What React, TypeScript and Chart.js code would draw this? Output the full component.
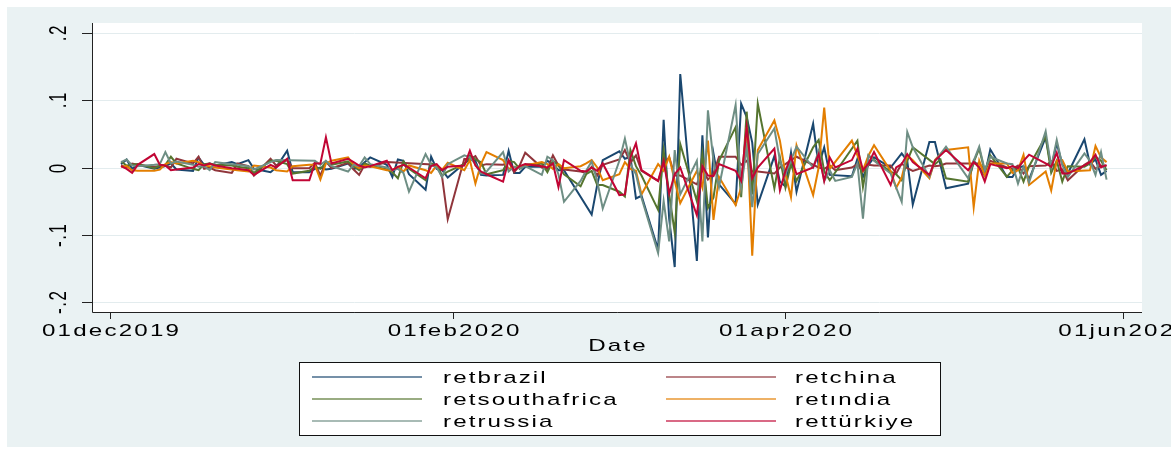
import { useEffect, useRef } from "react";
import { Chart, registerables } from "chart.js";

Chart.register(...registerables);

// ---------- data ----------
const dates = [
  "2019-12-03","2019-12-04","2019-12-05","2019-12-06","2019-12-09","2019-12-10","2019-12-11","2019-12-12","2019-12-13","2019-12-16",
  "2019-12-17","2019-12-18","2019-12-19","2019-12-20","2019-12-23","2019-12-24","2019-12-26","2019-12-27","2019-12-30","2019-12-31",
  "2020-01-02","2020-01-03","2020-01-06","2020-01-07","2020-01-08","2020-01-09","2020-01-10","2020-01-13","2020-01-14","2020-01-15",
  "2020-01-16","2020-01-17","2020-01-20","2020-01-21","2020-01-22","2020-01-23","2020-01-24","2020-01-27","2020-01-28","2020-01-29",
  "2020-01-30","2020-01-31",
  "2020-02-03","2020-02-04","2020-02-05","2020-02-06","2020-02-07","2020-02-10","2020-02-11","2020-02-12","2020-02-13","2020-02-14",
  "2020-02-17","2020-02-18","2020-02-19","2020-02-20","2020-02-21","2020-02-24","2020-02-25","2020-02-26","2020-02-27","2020-02-28",
  "2020-03-02","2020-03-03","2020-03-04","2020-03-05","2020-03-06","2020-03-09","2020-03-10","2020-03-11","2020-03-12","2020-03-13",
  "2020-03-16","2020-03-17","2020-03-18","2020-03-19","2020-03-20","2020-03-23","2020-03-24","2020-03-25","2020-03-26","2020-03-27",
  "2020-03-30","2020-03-31",
  "2020-04-01","2020-04-02","2020-04-03","2020-04-06","2020-04-07","2020-04-08","2020-04-09","2020-04-10","2020-04-13","2020-04-14",
  "2020-04-15","2020-04-16","2020-04-17","2020-04-20","2020-04-21","2020-04-22","2020-04-23","2020-04-24","2020-04-27","2020-04-28",
  "2020-04-29","2020-04-30",
  "2020-05-01","2020-05-04","2020-05-05","2020-05-06","2020-05-07","2020-05-08","2020-05-11","2020-05-12","2020-05-13","2020-05-14",
  "2020-05-15","2020-05-18","2020-05-19","2020-05-20","2020-05-21","2020-05-22","2020-05-25","2020-05-26","2020-05-27","2020-05-28",
  "2020-05-29",
];

const retbrazil = [
  0.005, 0.012, -0.002, 0.004, -0.002, 0.0, 0.002, 0.006, -0.003, -0.005, 0.015, 0.004, 0.006, 0.003, 0.008, 0.005, 0.011, -0.002, -0.007, 0.0,
  0.025, -0.007, -0.007, -0.002, 0.0, -0.003, -0.002, 0.006, -0.002, 0.0, 0.008, 0.015, 0.004, -0.014, 0.012, 0.01, -0.01, -0.033, 0.016, -0.002, -0.004, -0.015,
  0.006, 0.012, 0.01, -0.011, -0.012, -0.011, 0.025, -0.008, -0.008, 0.001, 0.001, 0.01, 0.005, -0.004, -0.004, null, null, -0.07, -0.026, 0.011,
  0.024, 0.013, 0.016, -0.046, -0.042, -0.122, 0.071, -0.076, -0.148, 0.139, -0.139, 0.048, -0.104, 0.021, -0.025, -0.054, 0.095, 0.075, 0.037, -0.055, 0.017, -0.021,
  -0.028, 0.022, -0.036, 0.065, 0.002, 0.03, -0.011, null, -0.013, 0.013, -0.014, 0.004, 0.015, 0.0, null, 0.021, 0.01, -0.055, 0.038, 0.038, 0.004, -0.031,
  null, -0.024, 0.01, 0.0, -0.012, 0.027, -0.014, -0.014, 0.0, 0.002, -0.018, 0.045, 0.0, 0.036, 0.005, -0.009, 0.042, 0.005, 0.012, -0.011, -0.005,
];

const retchina = [
  0.003, 0.0, 0.006, 0.004, 0.001, 0.002, 0.003, 0.0, 0.013, 0.006, 0.016, -0.002, 0.0, -0.004, -0.008, 0.006, 0.002, -0.012, 0.013, 0.003,
  0.011, -0.001, -0.001, 0.007, -0.012, 0.009, -0.001, 0.007, -0.003, -0.011, 0.004, 0.001, 0.008, null, null, null, null, null, null, 0.004, -0.015, -0.077,
  0.013, 0.012, 0.017, 0.003, 0.005, 0.004, 0.009, -0.007, 0.003, 0.022, 0.0, -0.002, 0.018, 0.003, -0.003, -0.006, -0.008, 0.001, -0.012, 0.004,
  0.012, 0.026, 0.007, 0.018, -0.005, -0.02, 0.005, 0.015, -0.012, -0.012, -0.025, -0.003, -0.018, -0.009, 0.016, 0.016, 0.004, 0.01, -0.006, -0.006, -0.009, 0.0,
  0.005, 0.011, 0.016, null, 0.0, -0.002, 0.003, -0.004, 0.0, 0.005, -0.006, 0.004, 0.003, 0.003, -0.009, 0.006, -0.001, -0.005, 0.003, 0.002, 0.003, 0.006,
  null, null, null, 0.006, -0.004, 0.01, 0.0, -0.002, 0.003, -0.009, 0.002, 0.003, 0.009, -0.005, -0.003, -0.019, 0.004, 0.009, -0.002, 0.003, 0.002,
];

const retsouthafrica = [
  0.009, 0.003, 0.004, 0.005, -0.001, 0.003, 0.004, 0.016, 0.006, -0.002, -0.004, 0.005, 0.006, 0.004, 0.003, 0.001, -0.001, -0.008, 0.01, 0.01,
  0.005, -0.009, -0.005, 0.001, -0.002, 0.007, 0.004, 0.009, 0.002, -0.004, 0.006, 0.003, -0.003, -0.007, -0.016, 0.009, -0.002, -0.019, 0.006, 0.003, -0.012, -0.006,
  0.005, 0.018, 0.012, 0.008, -0.01, -0.004, 0.01, 0.008, -0.002, 0.004, 0.006, -0.007, 0.01, 0.003, -0.01, -0.028, -0.01, -0.005, -0.026, -0.026,
  -0.036, -0.043, 0.026, 0.002, -0.012, -0.063, 0.025, -0.04, -0.097, 0.035, -0.05, 0.02, -0.06, -0.045, 0.01, 0.06, -0.044, 0.083, -0.04, 0.095, -0.031, 0.015,
  -0.03, 0.005, -0.02, 0.03, 0.041, -0.006, -0.019, null, null, 0.04, -0.029, 0.018, 0.011, -0.006, -0.01, -0.019, 0.01, 0.03, null, 0.005, 0.012, -0.016,
  null, -0.021, 0.008, 0.028, -0.006, 0.018, -0.014, -0.004, 0.0, -0.021, 0.002, 0.046, -0.008, 0.01, -0.021, 0.002, 0.001, 0.006, 0.016, 0.01, -0.004,
];

const retindia = [
  0.001, 0.002, -0.004, -0.005, -0.005, -0.003, 0.005, 0.008, 0.006, 0.01, 0.008, 0.003, 0.002, 0.0, -0.003, -0.004, -0.006, 0.003, 0.0, -0.004,
  -0.006, 0.002, 0.004, 0.004, -0.018, 0.006, 0.01, 0.015, 0.004, -0.001, 0.003, 0.002, -0.004, -0.004, 0.001, -0.006, 0.003, -0.004, -0.008, 0.003, -0.003, 0.007,
  -0.004, 0.011, -0.024, 0.005, 0.023, 0.011, -0.002, 0.001, 0.0, 0.003, 0.008, 0.005, -0.002, 0.005, -0.001, 0.002, 0.006, 0.011, 0.0, -0.019,
  -0.01, 0.008, -0.002, -0.005, -0.04, 0.005, -0.005, 0.016, -0.02, -0.053, -0.005, -0.03, 0.04, -0.078, -0.014, -0.056, -0.03, 0.06, -0.131, 0.026, 0.07, 0.04,
  -0.01, -0.044, 0.033, -0.041, 0.0, 0.089, -0.002, null, 0.04, null, -0.004, 0.018, 0.033, -0.005, -0.03, -0.015, 0.018, 0.011, -0.016, 0.011, 0.02, 0.026,
  null, 0.03, -0.059, 0.01, -0.012, 0.006, 0.006, -0.008, -0.004, 0.019, -0.026, -0.006, -0.034, 0.01, 0.011, -0.006, null, -0.004, 0.032, 0.015, 0.008,
];

const retrussia = [
  0.008, 0.012, 0.003, 0.002, 0.004, 0.005, 0.023, 0.006, 0.009, 0.004, 0.001, 0.002, -0.004, 0.008, 0.005, 0.004, 0.002, -0.003, 0.008, 0.011,
  null, null, null, 0.01, 0.004, 0.01, 0.002, -0.006, 0.004, 0.002, 0.015, 0.005, 0.0, -0.004, -0.002, -0.008, -0.036, 0.02, 0.004, 0.0, -0.014, 0.005,
  0.018, 0.015, 0.005, -0.009, -0.006, 0.023, -0.006, 0.001, -0.001, 0.002, -0.011, 0.016, 0.011, -0.01, -0.051, -0.02, -0.005, 0.009, -0.02, -0.061,
  0.01, 0.043, 0.005, -0.01, -0.045, -0.127, -0.05, -0.11, 0.026, -0.04, 0.01, -0.11, 0.085, 0.01, -0.029, 0.093, -0.03, 0.03, -0.059, 0.02, 0.058, 0.01,
  -0.01, 0.011, 0.031, 0.0, 0.025, -0.02, -0.004, -0.02, -0.014, 0.006, -0.076, 0.018, 0.01, -0.009, -0.03, -0.051, 0.053, 0.03, -0.014, 0.01, 0.02, 0.031,
  null, -0.016, 0.01, 0.031, -0.004, 0.016, 0.006, 0.005, -0.024, 0.001, -0.022, 0.054, 0.001, 0.041, 0.004, -0.014, 0.021, 0.01, -0.011, 0.023, -0.018,
];

const retturkiye = [
  0.002, -0.002, -0.008, 0.004, 0.02, 0.004, 0.003, -0.004, -0.003, 0.0, 0.005, 0.003, 0.006, 0.003, -0.001, -0.002, -0.004, -0.011, 0.004, 0.0,
  0.013, -0.019, -0.019, 0.006, 0.006, 0.045, 0.006, 0.013, 0.008, 0.003, 0.0, 0.002, 0.01, -0.004, 0.001, 0.004, 0.0, -0.016, 0.002, 0.005, -0.004, 0.001,
  0.003, 0.025, 0.003, -0.006, -0.01, -0.021, 0.011, -0.004, 0.002, 0.005, 0.002, 0.0, 0.006, -0.029, 0.011, -0.005, -0.006, 0.0, -0.005, 0.006,
  -0.041, -0.04, 0.015, 0.036, -0.004, -0.02, 0.01, -0.039, -0.01, 0.0, -0.071, 0.002, -0.012, -0.013, 0.005, -0.005, -0.02, 0.06, -0.016, 0.0, 0.028, -0.034,
  -0.005, 0.016, -0.01, 0.0, 0.02, -0.02, 0.015, 0.0, 0.011, 0.028, -0.004, 0.006, 0.023, -0.026, 0.0, 0.005, 0.02, 0.008, -0.011, 0.01, 0.018, 0.026,
  null, -0.004, 0.008, 0.0, -0.021, 0.005, -0.001, 0.002, -0.001, 0.01, 0.019, 0.006, 0.001, 0.022, -0.009, -0.009, 0.003, 0.008, 0.019, 0.0, 0.004,
];

const seriesLabels = ["retbrazil", "retchina", "retsouthafrica", "ret\u0131ndia", "retrussia", "rett\u00fcrkiye"];
const seriesValues = [retbrazil, retchina, retsouthafrica, retindia, retrussia, retturkiye];
const seriesColors = ["#1a476f", "#90353b", "#55752f", "#e37e00", "#6e8e84", "#c10534"];

const yTickValues = [-0.2, -0.1, 0, 0.1, 0.2];
const yTickLabels = ["-.2", "-.1", "0", ".1", ".2"];
const xTickDates = ["2019-12-01", "2020-02-01", "2020-04-01", "2020-06-01"];
const xTickLabels = ["01dec2019", "01feb2020", "01apr2020", "01jun2020"];
const xAxisTitle = "Date";

// ---------- helpers ----------
const ORIGIN = Date.parse("2019-12-01");
const dayOffset = (d: string) => (Date.parse(d) - ORIGIN) / 86400000;

const FONT = '"Liberation Sans", Arial, Helvetica, sans-serif';

function drawStretched(
  ctx: CanvasRenderingContext2D,
  text: string,
  x: number,
  y: number,
  size: number,
  sx: number,
  spacing: number,
  align: "left" | "center",
  rotate = false
) {
  ctx.save();
  ctx.translate(x, y);
  ctx.scale(sx, 1);
  if (rotate) ctx.rotate(-Math.PI / 2);
  ctx.font = `${size}px ${FONT}`;
  ctx.textBaseline = "alphabetic";
  ctx.textAlign = "left";
  ctx.fillStyle = "#000";
  const sp = rotate ? spacing : spacing / sx;
  const chars = Array.from(text);
  const widths = chars.map((c) => ctx.measureText(c).width);
  const total = widths.reduce((a, b) => a + b, 0) + sp * (chars.length - 1);
  let cx = align === "center" ? -total / 2 : 0;
  chars.forEach((c, i) => {
    ctx.fillText(c, cx, 0);
    cx += widths[i] + sp;
  });
  ctx.restore();
}

const stataFrame = {
  id: "stataFrame",
  beforeDraw(chart: any) {
    const { ctx, chartArea: a, width, height } = chart;
    const ys = chart.scales.y;
    ctx.save();
    ctx.fillStyle = "#ffffff";
    ctx.fillRect(0, 0, width, height);
    ctx.fillStyle = "#eaf2f3";
    ctx.fillRect(7, 7, width - 7, 440);
    ctx.fillStyle = "#ffffff";
    ctx.fillRect(a.left, a.top, a.right - a.left, a.bottom - a.top);
    ctx.strokeStyle = "#e3ecee";
    ctx.lineWidth = 1;
    yTickValues.forEach((v) => {
      const py = Math.round(ys.getPixelForValue(v)) + 0.5;
      ctx.beginPath();
      ctx.moveTo(a.left, py);
      ctx.lineTo(a.right, py);
      ctx.stroke();
    });
    ctx.restore();
  },
  afterDatasetsDraw(chart: any) {
    const { ctx, chartArea: a } = chart;
    const xs = chart.scales.x;
    const ys = chart.scales.y;
    ctx.save();
    ctx.strokeStyle = "#222";
    ctx.lineWidth = 1;
    ctx.beginPath();
    ctx.moveTo(a.left + 0.5, a.top);
    ctx.lineTo(a.left + 0.5, a.bottom + 0.5);
    ctx.lineTo(a.right, a.bottom + 0.5);
    ctx.stroke();
    yTickValues.forEach((v, i) => {
      const py = Math.round(ys.getPixelForValue(v)) + 0.5;
      ctx.beginPath();
      ctx.moveTo(a.left - 10, py);
      ctx.lineTo(a.left, py);
      ctx.stroke();
      drawStretched(ctx, yTickLabels[i], 66, py, 17, 1.42, 1.5, "center", true);
    });
    xTickDates.forEach((d, i) => {
      const px = Math.round(xs.getPixelForValue(dayOffset(d))) + 0.5;
      ctx.beginPath();
      ctx.moveTo(px, a.bottom);
      ctx.lineTo(px, a.bottom + 7);
      ctx.stroke();
      drawStretched(ctx, xTickLabels[i], px, 335.5, 17, 1.42, 2.2, "center");
    });
    drawStretched(ctx, xAxisTitle, (a.left + a.right) / 2, 351, 17, 1.42, 2.2, "center");

    // legend
    const bx = 299, by = 362, bw = 641, bh = 73;
    ctx.fillStyle = "#ffffff";
    ctx.fillRect(bx, by, bw, bh);
    ctx.strokeStyle = "#111";
    ctx.lineWidth = 1;
    ctx.strokeRect(bx + 0.5, by + 0.5, bw, bh);
    const rowY = [377, 399, 421];
    const colLine = [312, 666];
    const colText = [443, 795];
    chart.data.datasets.forEach((ds: any, i: number) => {
      const r = Math.floor(i / 2);
      const c = i % 2;
      ctx.strokeStyle = ds.borderColor;
      ctx.globalAlpha = 0.8;
      ctx.lineWidth = 1.6;
      ctx.beginPath();
      ctx.moveTo(colLine[c], rowY[r]);
      ctx.lineTo(colLine[c] + 110, rowY[r]);
      ctx.stroke();
      ctx.globalAlpha = 1;
      drawStretched(ctx, ds.label, colText[c], rowY[r] + 6, 17, 1.42, 2.1, "left");
    });
    ctx.restore();
  },
};

export default function App() {
  const ref = useRef<HTMLCanvasElement>(null);
  useEffect(() => {
    const canvas = ref.current;
    if (!canvas) return;
    const xVals = dates.map(dayOffset);
    const chart = new Chart(canvas, {
      type: "line",
      data: {
        datasets: seriesValues.map((vals, i) => ({
          label: seriesLabels[i],
          data: vals.map((v, j) => ({ x: xVals[j], y: v })),
          borderColor: seriesColors[i],
          backgroundColor: seriesColors[i],
          borderWidth: 2,
          pointRadius: 0,
          tension: 0,
          spanGaps: true,
          fill: false,
          order: seriesValues.length - i,
        })),
      },
      options: {
        animation: false,
        responsive: false,
        maintainAspectRatio: false,
        devicePixelRatio: 1,
        layout: { padding: { left: 92, top: 23, right: 29, bottom: 141 } },
        plugins: { legend: { display: false }, tooltip: { enabled: false } },
        scales: {
          x: { type: "linear", display: false, min: -3.25, max: 186.4 },
          y: { type: "linear", display: false, min: -0.2149, max: 0.2149 },
        },
      },
      plugins: [stataFrame],
    } as any);
    return () => chart.destroy();
  }, []);
  return (
    <div style={{ position: "fixed", left: 0, top: 0, width: 1171, height: 453 }}>
      <canvas ref={ref} width={1171} height={453} style={{ display: "block", width: 1171, height: 453 }} />
    </div>
  );
}
